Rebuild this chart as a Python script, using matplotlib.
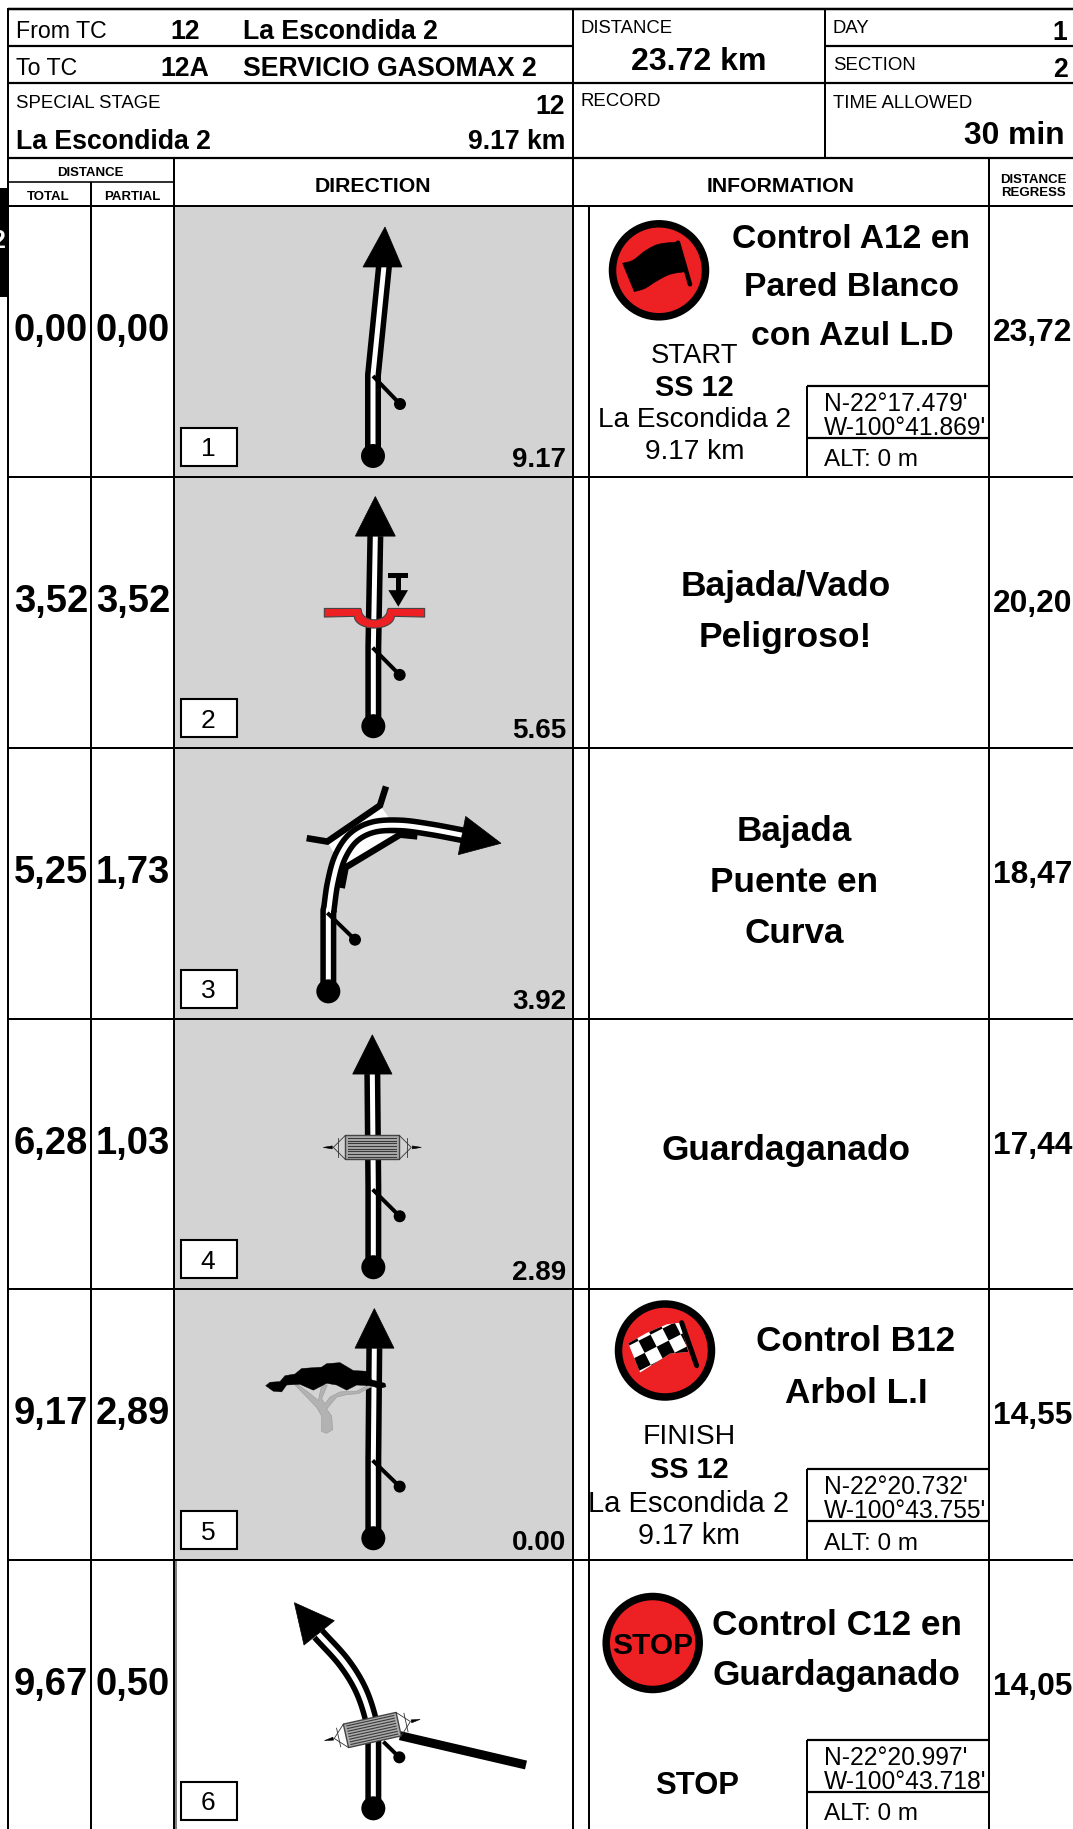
import numpy as np
import matplotlib
matplotlib.use("Agg")
import matplotlib.pyplot as plt
from matplotlib.patches import Polygon, Rectangle, Circle
from matplotlib.transforms import Affine2D

plt.rcParams['font.family'] = ['Liberation Sans', 'DejaVu Sans']

# ---------- roadbook content ----------
from_tc = ["From TC", "12", "La Escondida 2"]
to_tc = ["To TC", "12A", "SERVICIO GASOMAX 2"]
stage_no = "12"
stage_name = "La Escondida 2"
stage_len = "9.17 km"
leg_distance = "23.72 km"
day_value = "1"
section_value = "2"
time_allowed = "30 min"

total_km = ["0,00", "3,52", "5,25", "6,28", "9,17", "9,67"]
partial_km = ["0,00", "3,52", "1,73", "1,03", "2,89", "0,50"]
regress_km = ["23,72", "20,20", "18,47", "17,44", "14,55", "14,05"]
remaining = ["9.17", "5.65", "3.92", "2.89", "0.00", ""]
box_numbers = ["1", "2", "3", "4", "5", "6"]

coords_rows = [0, 4, 5]
north = ["N-22°17.479'", "N-22°20.732'", "N-22°20.997'"]
west = ["W-100°41.869'", "W-100°43.755'", "W-100°43.718'"]
alt = ["ALT: 0 m", "ALT: 0 m", "ALT: 0 m"]

RED = "#ed2024"
GREY = "#d3d3d3"
row_y = [206, 477, 748, 1018.5, 1289, 1560, 1835]

fig = plt.figure(figsize=(10.73, 18.29), dpi=100, facecolor="white")
ax = fig.add_axes([0, 0, 1, 1])
ax.set_xlim(0, 1073)
ax.set_ylim(1829, 0)
ax.axis("off")


def T(x, y, s, size, weight="normal", ha="center", va="center_baseline", color="black", **kw):
    return ax.text(x, y, s, fontsize=size, fontweight=weight, ha=ha, va=va, color=color, **kw)


def hl(y, x0=8, x1=1073, lw=2.0, c="black", z=5):
    ax.plot([x0, x1], [y, y], color=c, lw=lw * .72, solid_capstyle="butt", zorder=z)


def vl(x, y0, y1, lw=2.0, c="black", z=5):
    ax.plot([x, x], [y0, y1], color=c, lw=lw * .72, solid_capstyle="butt", zorder=z)


def smooth(pts, n=14):
    p = np.array(pts, float)
    p = np.vstack([2 * p[0] - p[1], p, 2 * p[-1] - p[-2]])
    out = []
    for i in range(1, len(p) - 2):
        a, b, c, d = p[i - 1], p[i], p[i + 1], p[i + 2]
        for t in np.linspace(0, 1, n, endpoint=False):
            out.append(.5 * (2 * b + (c - a) * t + (2 * a - 5 * b + 4 * c - d) * t ** 2 + (3 * b - a - 3 * c + d) * t ** 3))
    out.append(p[-2])
    return np.array(out)


def road(pts, tip, b1, b2, z=3):
    pts = np.array(pts, float)
    ax.plot(pts[:, 0], pts[:, 1], color="black", lw=16 * .72, solid_capstyle="butt", solid_joinstyle="round", zorder=z)
    ax.plot(pts[:, 0], pts[:, 1], color="white", lw=5 * .72, solid_capstyle="butt", solid_joinstyle="round", zorder=z + .1)
    ax.add_patch(Polygon([tip, b1, b2], closed=True, fc="black", ec="black", lw=.5, zorder=z + .2))
    ax.add_patch(Circle(tuple(pts[0]), 12, fc="black", ec="none", zorder=z + .3))


def tick(p0, p1, z=3.5):
    ax.plot([p0[0], p1[0]], [p0[1], p1[1]], color="black", lw=4 * .72, solid_capstyle="butt", zorder=z)
    ax.add_patch(Circle(p1, 6, fc="black", ec="none", zorder=z))


def cattle_grid(cx, cy, angle, z=4):
    tr = Affine2D().rotate_deg(angle).translate(cx, cy) + ax.transData
    ax.add_patch(Rectangle((-27, -12), 54, 24, fc="#ababab", ec="#444444", lw=1.0, zorder=z, transform=tr))
    for y in np.linspace(-9.5, 9.5, 8):
        ax.plot([-24, 24], [y, y], color="#3a3a3a", lw=.8, transform=tr, zorder=z + .1)
    for s in (-1, 1):
        ax.plot([s * 27, s * 39, s * 27], [-12, 0, 12], color="#333333", lw=.6, transform=tr, zorder=z)
        ax.plot([s * 34.5, s * 34.5], [-9.5, 9.5], color="#333333", lw=.6, transform=tr, zorder=z)
        ax.add_patch(Polygon([(s * 40, -1.5), (s * 49, 0), (s * 40, 1.5)], closed=True, fc="black", ec="black", lw=.4,
                             transform=tr, zorder=z))


def number_box(i):
    top = row_y[i]
    ax.add_patch(Rectangle((181, top + 221.5), 56, 38, fc="white", ec="black", lw=1.5, zorder=6))
    T(208, top + 241, box_numbers[i], 19, zorder=7)
    if remaining[i]:
        T(566, top + 251, remaining[i], 20, "bold", ha="right", zorder=7)


def ring(cx, cy, z=3):
    ax.add_patch(Circle((cx, cy), 46.5, fc=RED, ec="black", lw=7.5 * .72, zorder=z))


# ---------- backgrounds ----------
ax.add_patch(Rectangle((173, 206), 400, row_y[5] - 206, fc=GREY, ec="none", zorder=1))
ax.add_patch(Rectangle((0, 188), 8, 109, fc="black", ec="none", zorder=2))
T(5.5, 239, "2", 18, "bold", ha="right", color="white", zorder=3, clip_on=True)

# ---------- grid lines ----------
hl(9, lw=2.5)
hl(46, 8, 573, lw=2.2)
hl(46, 825, 1073, lw=2.2)
hl(83, lw=2.2)
hl(158, lw=2.2)
hl(182, 8, 173, lw=1.6)
hl(206, lw=2.0)
vl(8, 8, 1829)
vl(573, 9, 1829)
vl(825, 9, 158)
vl(91, 182, 1829)
vl(174, 158, 1829)
vl(989, 158, 1829)
vl(588.5, 206, 1829)
vl(176, 1561, 1829, lw=2, c="#808080")
for y in row_y[1:6]:
    hl(y, 8, lw=2.0)

# ---------- header text ----------
T(16.5, 29, from_tc[0], 16.7, ha="left")
T(185, 29, from_tc[1], 19.2, "bold")
T(243, 29, from_tc[2], 19.2, "bold", ha="left")
T(16.5, 66, to_tc[0], 16.7, ha="left")
T(185, 66, to_tc[1], 19.2, "bold")
T(243, 66, to_tc[2], 19.2, "bold", ha="left")
T(580, 26.5, "DISTANCE", 13.3, ha="left")
T(699, 58, leg_distance, 23.1, "bold")
T(833, 26.5, "DAY", 13.3, ha="left")
T(1067, 30, day_value, 19.2, "bold", ha="right")
T(833, 63.5, "SECTION", 13.4, ha="left")
T(1068, 67, section_value, 19.2, "bold", ha="right")
T(16.5, 101.5, "SPECIAL STAGE", 13.4, ha="left")
T(565, 103.5, stage_no, 19.2, "bold", ha="right")
T(16.5, 139, stage_name, 19.2, "bold", ha="left")
T(565, 139, stage_len, 19.2, "bold", ha="right")
T(580, 99, "RECORD", 13.4, ha="left")
T(833, 101.5, "TIME ALLOWED", 13.4, ha="left")
T(1065, 133, time_allowed, 22.9, "bold", ha="right")
T(90.5, 171.5, "DISTANCE", 9.5, "bold")
T(48.5, 195, "TOTAL", 9.5, "bold")
T(132, 195, "PARTIAL", 9.5, "bold")
T(373, 184.5, "DIRECTION", 15.3, "bold")
T(781, 184.5, "INFORMATION", 15.3, "bold")
T(1033, 178.5, "DISTANCE", 9.5, "bold")
T(1033, 192, "REGRESS", 9.5, "bold")

# ---------- distances ----------
for i in range(6):
    y = row_y[i] + 121.2
    T(51, y, total_km[i], 27.5, "bold", zorder=7)
    T(133, y, partial_km[i], 27.5, "bold", zorder=7)
    T(1033, y + 2.4, regress_km[i], 22.9, "bold", zorder=7)
    number_box(i)

# ---------- coordinates boxes ----------
for k, i in enumerate(coords_rows):
    top = row_y[i]
    hl(top + 180, 807, 989, lw=2.2)
    hl(top + 232, 807, 989, lw=2.2)
    vl(807, top + 180, min(row_y[i + 1], 1829))
    T(824, top + 195.5, north[k], 17.7, ha="left", zorder=7)
    T(824, top + 219.7, west[k], 17.7, ha="left", zorder=7)
    T(824, top + 252, alt[k], 17.5, ha="left", zorder=7)


# ---------- row 1 ----------
def zf(x, y):
    return (590 + x / 3, 206 + y / 3)


road([(373, 456), (373, 375), (384, 266)], (385, 227), (363, 267), (402, 267))
tick((373, 376), (400, 404))

ring(659, 270.3)
flag_top = smooth([zf(98, 172), zf(130, 162), zf(165, 135), zf(205, 115), zf(260, 108)])
flag_low = smooth([zf(285, 197), zf(240, 205), zf(200, 225), zf(165, 247), zf(133, 257)])
ax.add_patch(Polygon(np.vstack([flag_top, flag_low]), closed=True, fc="black", ec="black", lw=.4, zorder=4))
ax.plot(*zip(zf(264, 110), zf(300, 235)), color="black", lw=4.5 * .72, solid_capstyle="round", zorder=4)
T(851.5, 236, "Control A12 en", 24.2, "bold")
T(852, 284, "Pared Blanco", 24.2, "bold")
T(852, 333, "con Azul L.D", 24.2, "bold")
T(694.7, 353, "START", 19.8)
T(694.7, 385, "SS 12", 20.8, "bold")
T(694.7, 417, stage_name, 20.2)
T(694.7, 449, stage_len, 20.2)


# ---------- row 2 ----------
def z2(x, y):
    return (170 + x / 3, 480 + y / 2.904)


road([z2(610, 715), z2(610, 484), z2(616, 163)], z2(616, 48), z2(556, 163), z2(676, 163))
tick(z2(608, 487), z2(689, 566))
th = np.linspace(np.pi, 0, 25)
inner = [z2(613 + 39 * np.cos(t), 378 + 28 * np.sin(t)) for t in th]
outer = [z2(613 + 60 * np.cos(t), 396 + 34 * np.sin(t)) for t in th[::-1]]
bridge = [z2(463, 373), z2(572, 373)] + inner + [z2(655, 373), z2(764, 373), z2(764, 398)] + outer + [z2(463, 398)]
ax.add_patch(Polygon(bridge, closed=True, fc=RED, ec="#444444", lw=.8, zorder=4))
ax.add_patch(Rectangle(z2(655, 270), 20, 5.5, fc="black", ec="none", zorder=4))
ax.add_patch(Rectangle(z2(678, 285), 4.6, 13, fc="black", ec="none", zorder=4))
ax.add_patch(Polygon([z2(655, 320), z2(714, 320), z2(685, 368)], closed=True, fc="black", ec="none", zorder=4))
T(786, 583, "Bajada/Vado", 25.5, "bold")
T(785, 634, "Peligroso!", 25.5, "bold")

# ---------- row 3 ----------
curve = smooth([z2(476, 1250), z2(488, 1170), z2(510, 1095), z2(550, 1038), z2(610, 1008), z2(690, 1003),
                z2(780, 1014), z2(880, 1032)])
ax.add_patch(Polygon([z2(472, 1050), z2(630, 945), z2(660, 985), z2(490, 1080)], closed=True, fc="white", ec="none", zorder=2))
ax.add_patch(Polygon([z2(527, 1125), z2(690, 1030), z2(600, 1020), z2(540, 1060)], closed=True, fc="white", ec="none", zorder=2))
ax.plot(*zip(z2(410, 1040), z2(472, 1050), z2(630, 945), z2(648, 890)), color="black", lw=6.5 * .72,
        solid_joinstyle="miter", solid_capstyle="butt", zorder=2.5)
ax.plot(*zip(z2(515, 1185), z2(527, 1125), z2(690, 1030), z2(742, 1035)), color="black", lw=6.5 * .72,
        solid_joinstyle="miter", solid_capstyle="butt", zorder=2.5)
road(np.vstack([[z2(475, 1485)], [z2(475, 1250)], curve]), z2(993, 1055), z2(887, 977), z2(865, 1088))
tick(z2(472, 1257), z2(555, 1335))
T(794, 828, "Bajada", 25.3, "bold")
T(794, 879, "Puente en", 25.3, "bold")
T(794, 930, "Curva", 25.3, "bold")


# ---------- row 4 ----------
def z3(x, y):
    return (170 + x / 3, 1020 + y / 2.904)


road([z3(610, 718), z3(610, 488), z3(607, 157)], z3(607, 43), z3(548, 157), z3(666, 157))
tick(z3(608, 492), z3(689, 570))
cattle_grid(372.3, 1147.4, 0)
T(786, 1147, "Guardaganado", 25.4, "bold")

# ---------- row 5 ----------
road([z3(610, 1505), z3(610, 1275), z3(613, 953)], z3(613, 838), z3(555, 953), z3(672, 953))
tick(z3(608, 1279), z3(689, 1355))
trunk = [(455, 1195), (470, 1200), (488, 1190), (485, 1150), (470, 1130), (500, 1095), (530, 1088), (565, 1085), (605, 1065),
         (595, 1060), (560, 1078), (510, 1080), (480, 1095), (465, 1115), (455, 1100), (472, 1060), (455, 1060), (445, 1105),
         (420, 1085), (385, 1060), (375, 1060), (410, 1095), (440, 1125), (455, 1150)]
ax.add_patch(Polygon([z3(*p) for p in trunk], closed=True, fc="#b2b2b2", ec="#9a9a9a", lw=.4, zorder=3.6))
canopy = [(287, 1062), (300, 1052), (330, 1050), (345, 1033), (375, 1028), (395, 1012), (455, 1008), (470, 998), (510, 995),
          (550, 1018), (590, 1020), (605, 1045), (645, 1055), (648, 1065), (630, 1070), (600, 1062), (560, 1060), (530, 1075),
          (500, 1060), (470, 1055), (430, 1075), (390, 1058), (350, 1060), (335, 1080), (310, 1078)]
ax.add_patch(Polygon([z3(*p) for p in canopy], closed=True, fc="black", ec="black", lw=.3, zorder=3.7))


def z5(x, y):
    return (580 + x / 3, 1290 + y / 2.909)


ring(665, 1350.5)
flag_poly = Polygon([z5(145, 155), z5(200, 125), z5(260, 100), z5(300, 95), z5(325, 180), z5(270, 185), z5(230, 210), z5(180, 240)],
                    closed=True, fc="white", ec="none", zorder=4)
ax.add_patch(flag_poly)
cell = 13.5
flag_tr = Affine2D().rotate_deg(-27).translate(*z5(230, 165)) + ax.transData
for a in range(-5, 6):
    for b in range(-4, 5):
        if (a + b) % 2 == 0:
            r = Rectangle((a * cell, b * cell), cell, cell, fc="black", ec="none", transform=flag_tr, zorder=4.1)
            ax.add_patch(r)
            r.set_clip_path(flag_poly)
ax.plot(*zip(z5(305, 95), z5(350, 220)), color="black", lw=5 * .72, solid_capstyle="round", zorder=4.2)
T(855.5, 1338, "Control B12", 25.3, "bold")
T(856, 1390, "Arbol L.I", 25.3, "bold")
T(689.4, 1434, "FINISH", 20.4)
T(689, 1467, "SS 12", 20.8, "bold")
T(689, 1500.5, stage_name, 21)
T(689, 1533.5, stage_len, 20.6)


# ---------- row 6 ----------
def z4(x, y):
    return (170 + x / 3, 1560 + y / 3)


ax.plot(*zip(z4(690, 527), z4(1068, 615)), color="black", lw=9 * .72, solid_capstyle="butt", zorder=3)
curve6 = smooth([z4(610, 540), z4(600, 470), z4(570, 385), z4(520, 305), z4(445, 222)])
road(np.vstack([[z4(610, 745)], curve6]), z4(373, 128), z4(493, 182), z4(402, 255))
tick(z4(640, 545), z4(688, 592))
cattle_grid(372.3, 1730, -12.5)
ring(652.7, 1643)
T(652.7, 1643.5, "STOP", 21.5, "bold", zorder=5)
T(837, 1622, "Control C12 en", 25.3, "bold")
T(836.7, 1672, "Guardaganado", 25.3, "bold")
T(696.7, 1782, "STOP", 22.3, "bold")

fig.savefig("out.png", dpi=100, facecolor="white")
